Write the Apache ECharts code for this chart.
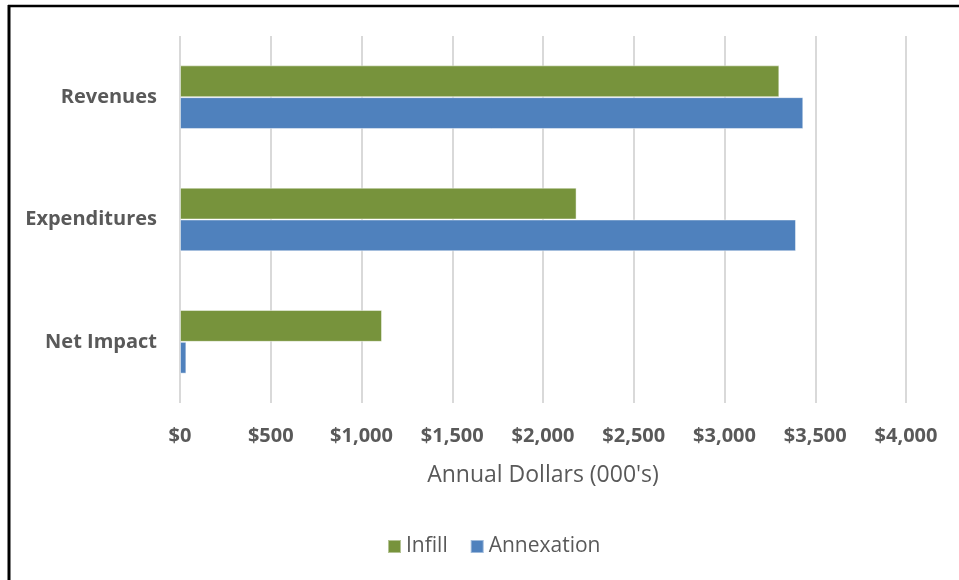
<!DOCTYPE html>
<html>
<head>
<meta charset="utf-8">
<script src="https://cdn.jsdelivr.net/npm/echarts@6/dist/echarts.min.js"></script>
<style>
  html, body { margin: 0; padding: 0; background: #fff; }
  #chart { width: 959px; height: 580px; }
</style>
</head>
<body>
<div id="chart"></div>
<script>
// Categories listed bottom to top along the value axis
const categories = ['Net Impact', 'Expenditures', 'Revenues'];
const infill = [1113, 2185, 3302];
const annexation = [35, 3394, 3434];
const xTicks = { min: 0, max: 4000, interval: 500 };

const chart = echarts.init(document.getElementById('chart'));
const font = '"Open Sans", Lato, sans-serif';

chart.setOption({
  backgroundColor: '#ffffff',
  animation: false,
  grid: { left: 180, right: 53, top: 36, bottom: 177, containLabel: false },
  legend: {
    data: ['Infill', 'Annexation'],
    bottom: 18,
    left: 382,
    itemWidth: 13,
    itemHeight: 13,
    itemGap: 22,
    icon: 'rect',
    textStyle: { fontFamily: font, fontSize: 21, color: '#595959' }
  },
  xAxis: {
    type: 'value',
    min: xTicks.min,
    max: xTicks.max,
    interval: xTicks.interval,
    name: "Annual Dollars (000's)",
    nameLocation: 'middle',
    nameGap: 61,
    nameTextStyle: { fontFamily: font, fontSize: 23, color: '#595959' },
    axisLine: { show: false },
    axisTick: { show: false },
    axisLabel: {
      margin: 23,
      fontFamily: font,
      fontSize: 20,
      fontWeight: 'bold',
      color: '#595959',
      formatter: v => '$' + v.toLocaleString('en-US')
    },
    splitLine: { show: true, lineStyle: { color: '#d9d9d9', width: 2 } }
  },
  yAxis: {
    type: 'category',
    data: categories,
    axisLine: { show: false },
    axisTick: { show: false },
    axisLabel: {
      margin: 23,
      fontFamily: font,
      fontSize: 20,
      fontWeight: 'bold',
      color: '#595959'
    }
  },
  series: [
    {
      name: 'Infill',
      type: 'bar',
      data: infill,
      barGap: '0%',
      barCategoryGap: '48%',
      itemStyle: { color: '#77933C', borderColor: 'rgba(255,255,255,0.45)', borderWidth: 1 }
    },
    {
      name: 'Annexation',
      type: 'bar',
      data: annexation,
      barGap: '0%',
      barCategoryGap: '48%',
      itemStyle: { color: '#4F81BD', borderColor: 'rgba(255,255,255,0.45)', borderWidth: 1 }
    }
  ],
  graphic: [
    { type: 'line', shape: { x1: 8, y1: 6, x2: 959, y2: 6 }, style: { stroke: '#000', lineWidth: 2.5 } },
    { type: 'line', shape: { x1: 9, y1: 5, x2: 9, y2: 580 }, style: { stroke: '#000', lineWidth: 3 } }
  ]
});
</script>
</body>
</html>
